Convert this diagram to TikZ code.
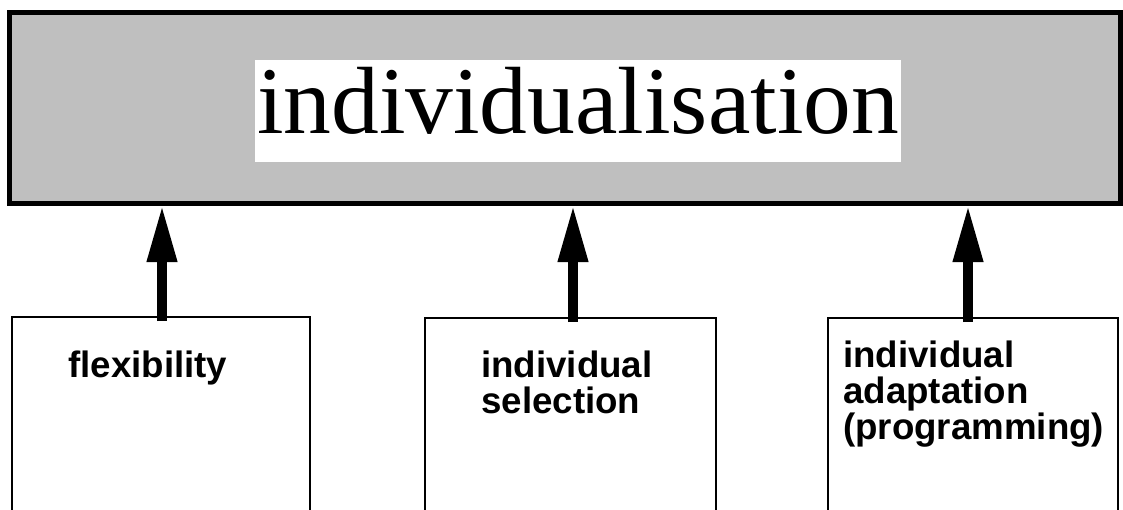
\documentclass[tikz,border=0pt]{standalone}
\usepackage{fontspec}
\setmainfont{Liberation Serif}
\setsansfont{Liberation Sans}
\usetikzlibrary{arrows.meta}
\begin{document}
\begin{tikzpicture}[x=1pt,y=-1pt,
  topbox/.style={draw=black, line width=5pt, fill=black!25, inner sep=0pt},
  titlebox/.style={fill=white, inner sep=0pt, minimum width=646pt,
    text height=73pt, text depth=29pt, anchor=base,
    font=\fontsize{95.5}{95}\selectfont},
  srcbox/.style={draw=black, line width=2pt, fill=white, inner sep=0pt},
  lab/.style={inner sep=0pt, align=left, anchor=base west,
    font=\sffamily\bfseries\fontsize{36.7}{36}\selectfont},
  uparrow/.style={line width=10pt, -{Triangle[width=28pt,length=57pt]}}
]
\useasboundingbox (0,0) rectangle (1123,509);

% upper frame with the heading
\node[topbox, minimum width=1111pt, minimum height=190.5pt] (top) at (565,107.75) {};
\node[titlebox] (title) at (578,133) {individualisation};

% lower boxes (open past the bottom edge)
\node[srcbox, minimum width=298pt, minimum height=213pt] (b1) at (161,423.5) {};
\node[srcbox, minimum width=291pt, minimum height=212pt] (b2) at (570.5,424) {};
\node[srcbox, minimum width=290pt, minimum height=212pt] (b3) at (973,424) {};

% box texts (anchored at the baseline of the last line)
\node[lab] (l1) at (68,377) {flexibility};
\node[lab] (l2) at (481,413) {individual\\selection};
\node[lab] (l3) at (843,439) {individual\\adaptation\\(programming)};

% arrow tips meet the lower edge of the frame; shafts start just inside the boxes
\coordinate (t1) at (162,205);
\coordinate (t2) at (573,205);
\coordinate (t3) at (968,205);
\draw[uparrow] ([yshift=-5pt]b1.north -| t1) -- (t1);
\draw[uparrow] ([yshift=-5pt]b2.north -| t2) -- (t2);
\draw[uparrow] ([yshift=-5pt]b3.north -| t3) -- (t3);
\end{tikzpicture}
\end{document}
